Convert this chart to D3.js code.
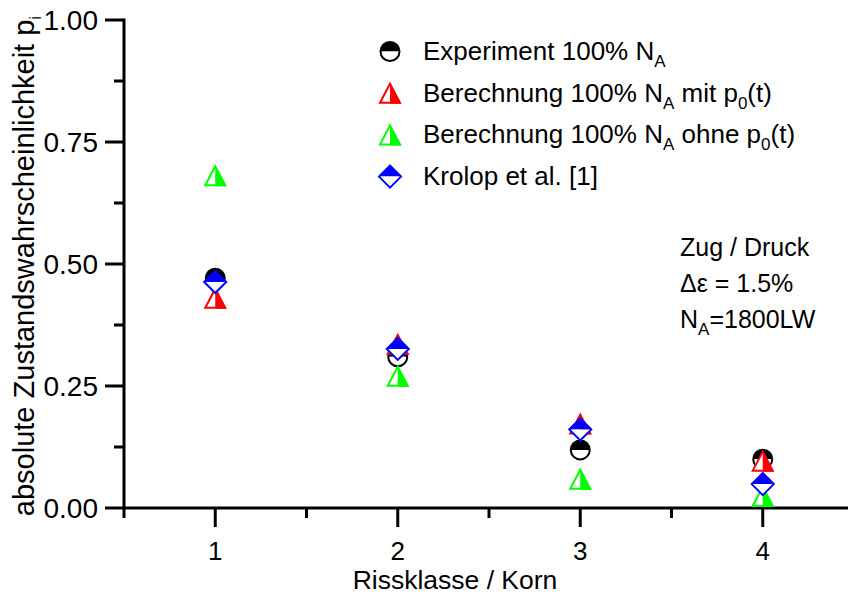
<!DOCTYPE html>
<html>
<head>
<meta charset="utf-8">
<script src="https://cdn.jsdelivr.net/npm/d3@7"></script>
<style>
  html, body { margin: 0; padding: 0; background: #fff; }
  svg { display: block; font-family: "Liberation Sans", Arial, Helvetica, sans-serif; }
</style>
</head>
<body>
<svg id="chart" width="848" height="594"></svg>
<script>
// Rissklassen (x) and state probabilities per series
const classes = [1, 2, 3, 4];
const experiment = [0.471, 0.310, 0.119, 0.100];
const mitP0 = [0.430, 0.335, 0.172, 0.096];
const ohneP0 = [0.681, 0.270, 0.059, 0.024];
const krolop = [0.463, 0.326, 0.161, 0.049];

const yMajor = [0, 0.25, 0.5, 0.75, 1.0];
const yMinor = [0.125, 0.375, 0.625, 0.875];
const xMajor = [1, 2, 3, 4];
const xMinor = [0.5, 1.5, 2.5, 3.5, 4.5];

const svg = d3.select("#chart");
const x = d3.scaleLinear().domain([0.5, 4.5]).range([124, 854]);
const y = d3.scaleLinear().domain([0, 1]).range([508, 20]);

const TICK_FS = 28;
const LEG_FS = 26;
const SUB_FS = 17;
const SUB_DY = 7;
const axisW = 3;

// ---- marker shapes (half-filled) ----
function circleMarker(g, color) {
  const r = 9.5;
  g.append("path").attr("d", `M${-r},0 A${r},${r} 0 0 1 ${r},0 Z`).attr("fill", color);
  g.append("path").attr("d", `M${-r},0 A${r},${r} 0 0 0 ${r},0 Z`).attr("fill", "#fff");
  g.append("circle").attr("r", r).attr("fill", "none").attr("stroke", color).attr("stroke-width", 2);
}
function triangleMarker(g, color) {
  const w = 22, h = 21;
  g.append("path").attr("d", `M${-w/2},${h/2} L0,${-h/2} L${w/2},${h/2} Z`).attr("fill", "#fff");
  g.append("path").attr("d", `M0,${-h/2} L${w/2},${h/2} L0,${h/2} Z`).attr("fill", color);
  g.append("path").attr("d", `M${-w/2 + 1},${h/2 - 1} L0,${-h/2 + 1} L${w/2 - 1},${h/2 - 1} Z`)
    .attr("fill", "none").attr("stroke", color).attr("stroke-width", 2).attr("stroke-linejoin", "miter");
}
function diamondMarker(g, color) {
  const s = 12;
  g.append("path").attr("d", `M${-s},0 L0,${-s} L${s},0 Z`).attr("fill", color);
  g.append("path").attr("d", `M${-s},0 L0,${s} L${s},0 Z`).attr("fill", "#fff");
  g.append("path").attr("d", `M${-s + 1},0 L0,${-s + 1} L${s - 1},0 L0,${s - 1} Z`)
    .attr("fill", "none").attr("stroke", color).attr("stroke-width", 2);
}

const series = [
  { name: "exp", values: experiment, color: "#000000", draw: circleMarker },
  { name: "mit", values: mitP0, color: "#ff0000", draw: triangleMarker },
  { name: "ohne", values: ohneP0, color: "#00ff00", draw: triangleMarker },
  { name: "krolop", values: krolop, color: "#0000ff", draw: diamondMarker }
];

// text with subscript runs: parts = [[text, isSubscript], ...]
function richText(t, parts) {
  let sub = false;
  parts.forEach(([txt, isSub]) => {
    const ts = t.append("tspan").text(txt);
    if (isSub) ts.attr("font-size", SUB_FS);
    if (isSub && !sub) ts.attr("dy", SUB_DY);
    if (!isSub && sub) ts.attr("dy", -SUB_DY);
    sub = !!isSub;
  });
  return t;
}

// ---- axes ----
const axes = svg.append("g");
axes.append("line").attr("x1", x(0.5)).attr("x2", x(0.5))
  .attr("y1", y(1) - 1.5).attr("y2", y(0))
  .attr("stroke", "#000").attr("stroke-width", axisW);
axes.append("line").attr("x1", x(0.5)).attr("x2", 848)
  .attr("y1", y(0)).attr("y2", y(0))
  .attr("stroke", "#000").attr("stroke-width", axisW);

yMajor.forEach(v => {
  axes.append("line").attr("x1", x(0.5) - 19).attr("x2", x(0.5))
    .attr("y1", y(v)).attr("y2", y(v)).attr("stroke", "#000").attr("stroke-width", axisW);
  axes.append("text").attr("x", 98).attr("y", y(v)).attr("dy", "0.36em")
    .attr("text-anchor", "end").attr("font-size", TICK_FS).text(d3.format(".2f")(v));
});
yMinor.forEach(v => {
  axes.append("line").attr("x1", x(0.5) - 10).attr("x2", x(0.5))
    .attr("y1", y(v)).attr("y2", y(v)).attr("stroke", "#000").attr("stroke-width", axisW);
});
xMajor.forEach(v => {
  axes.append("line").attr("x1", x(v)).attr("x2", x(v))
    .attr("y1", y(0)).attr("y2", y(0) + 19).attr("stroke", "#000").attr("stroke-width", axisW);
  axes.append("text").attr("x", x(v)).attr("y", 560)
    .attr("text-anchor", "middle").attr("font-size", 26).text(v);
});
xMinor.forEach(v => {
  axes.append("line").attr("x1", x(v)).attr("x2", x(v))
    .attr("y1", y(0)).attr("y2", y(0) + 10).attr("stroke", "#000").attr("stroke-width", axisW);
});

// axis titles
svg.append("text").attr("x", 455).attr("y", 589).attr("text-anchor", "middle")
  .attr("font-size", 26.5).text("Rissklasse / Korn");

const yTitle = svg.append("text")
  .attr("transform", "translate(34,266) rotate(-90)")
  .attr("text-anchor", "middle").attr("font-size", 29);
yTitle.append("tspan").text("absolute Zustandswahrscheinlichkeit p");
yTitle.append("tspan").attr("font-size", SUB_FS).attr("dy", SUB_DY).text("i");

// ---- data markers ----
const plot = svg.append("g");
series.forEach(s => {
  s.values.forEach((v, i) => {
    const g = plot.append("g").attr("transform", `translate(${x(classes[i])},${y(v)})`);
    s.draw(g, s.color);
  });
});

// ---- legend ----
const legendRows = [
  { s: series[0], parts: [["Experiment 100% N", 0], ["A", 1]] },
  { s: series[1], parts: [["Berechnung 100% N", 0], ["A", 1], [" mit p", 0], ["0", 1], ["(t)", 0]] },
  { s: series[2], parts: [["Berechnung 100% N", 0], ["A", 1], [" ohne p", 0], ["0", 1], ["(t)", 0]] },
  { s: series[3], parts: [["Krolop et al. [1]", 0]] }
];
const legend = svg.append("g");
legendRows.forEach((row, i) => {
  const cy = 51.5 + i * 41.7;
  const g = legend.append("g").attr("transform", `translate(390,${cy})`);
  row.s.draw(g, row.s.color);
  const t = legend.append("text").attr("x", 423).attr("y", cy + 8.5).attr("font-size", LEG_FS);
  richText(t, row.parts);
});

// ---- annotation ----
const note = svg.append("g").attr("font-size", 25);
note.append("text").attr("x", 680).attr("y", 256).text("Zug / Druck");
note.append("text").attr("x", 680).attr("y", 292).text("\u0394\u03b5 = 1.5%");
richText(note.append("text").attr("x", 680).attr("y", 328), [["N", 0], ["A", 1], ["=1800LW", 0]]);
</script>
</body>
</html>
